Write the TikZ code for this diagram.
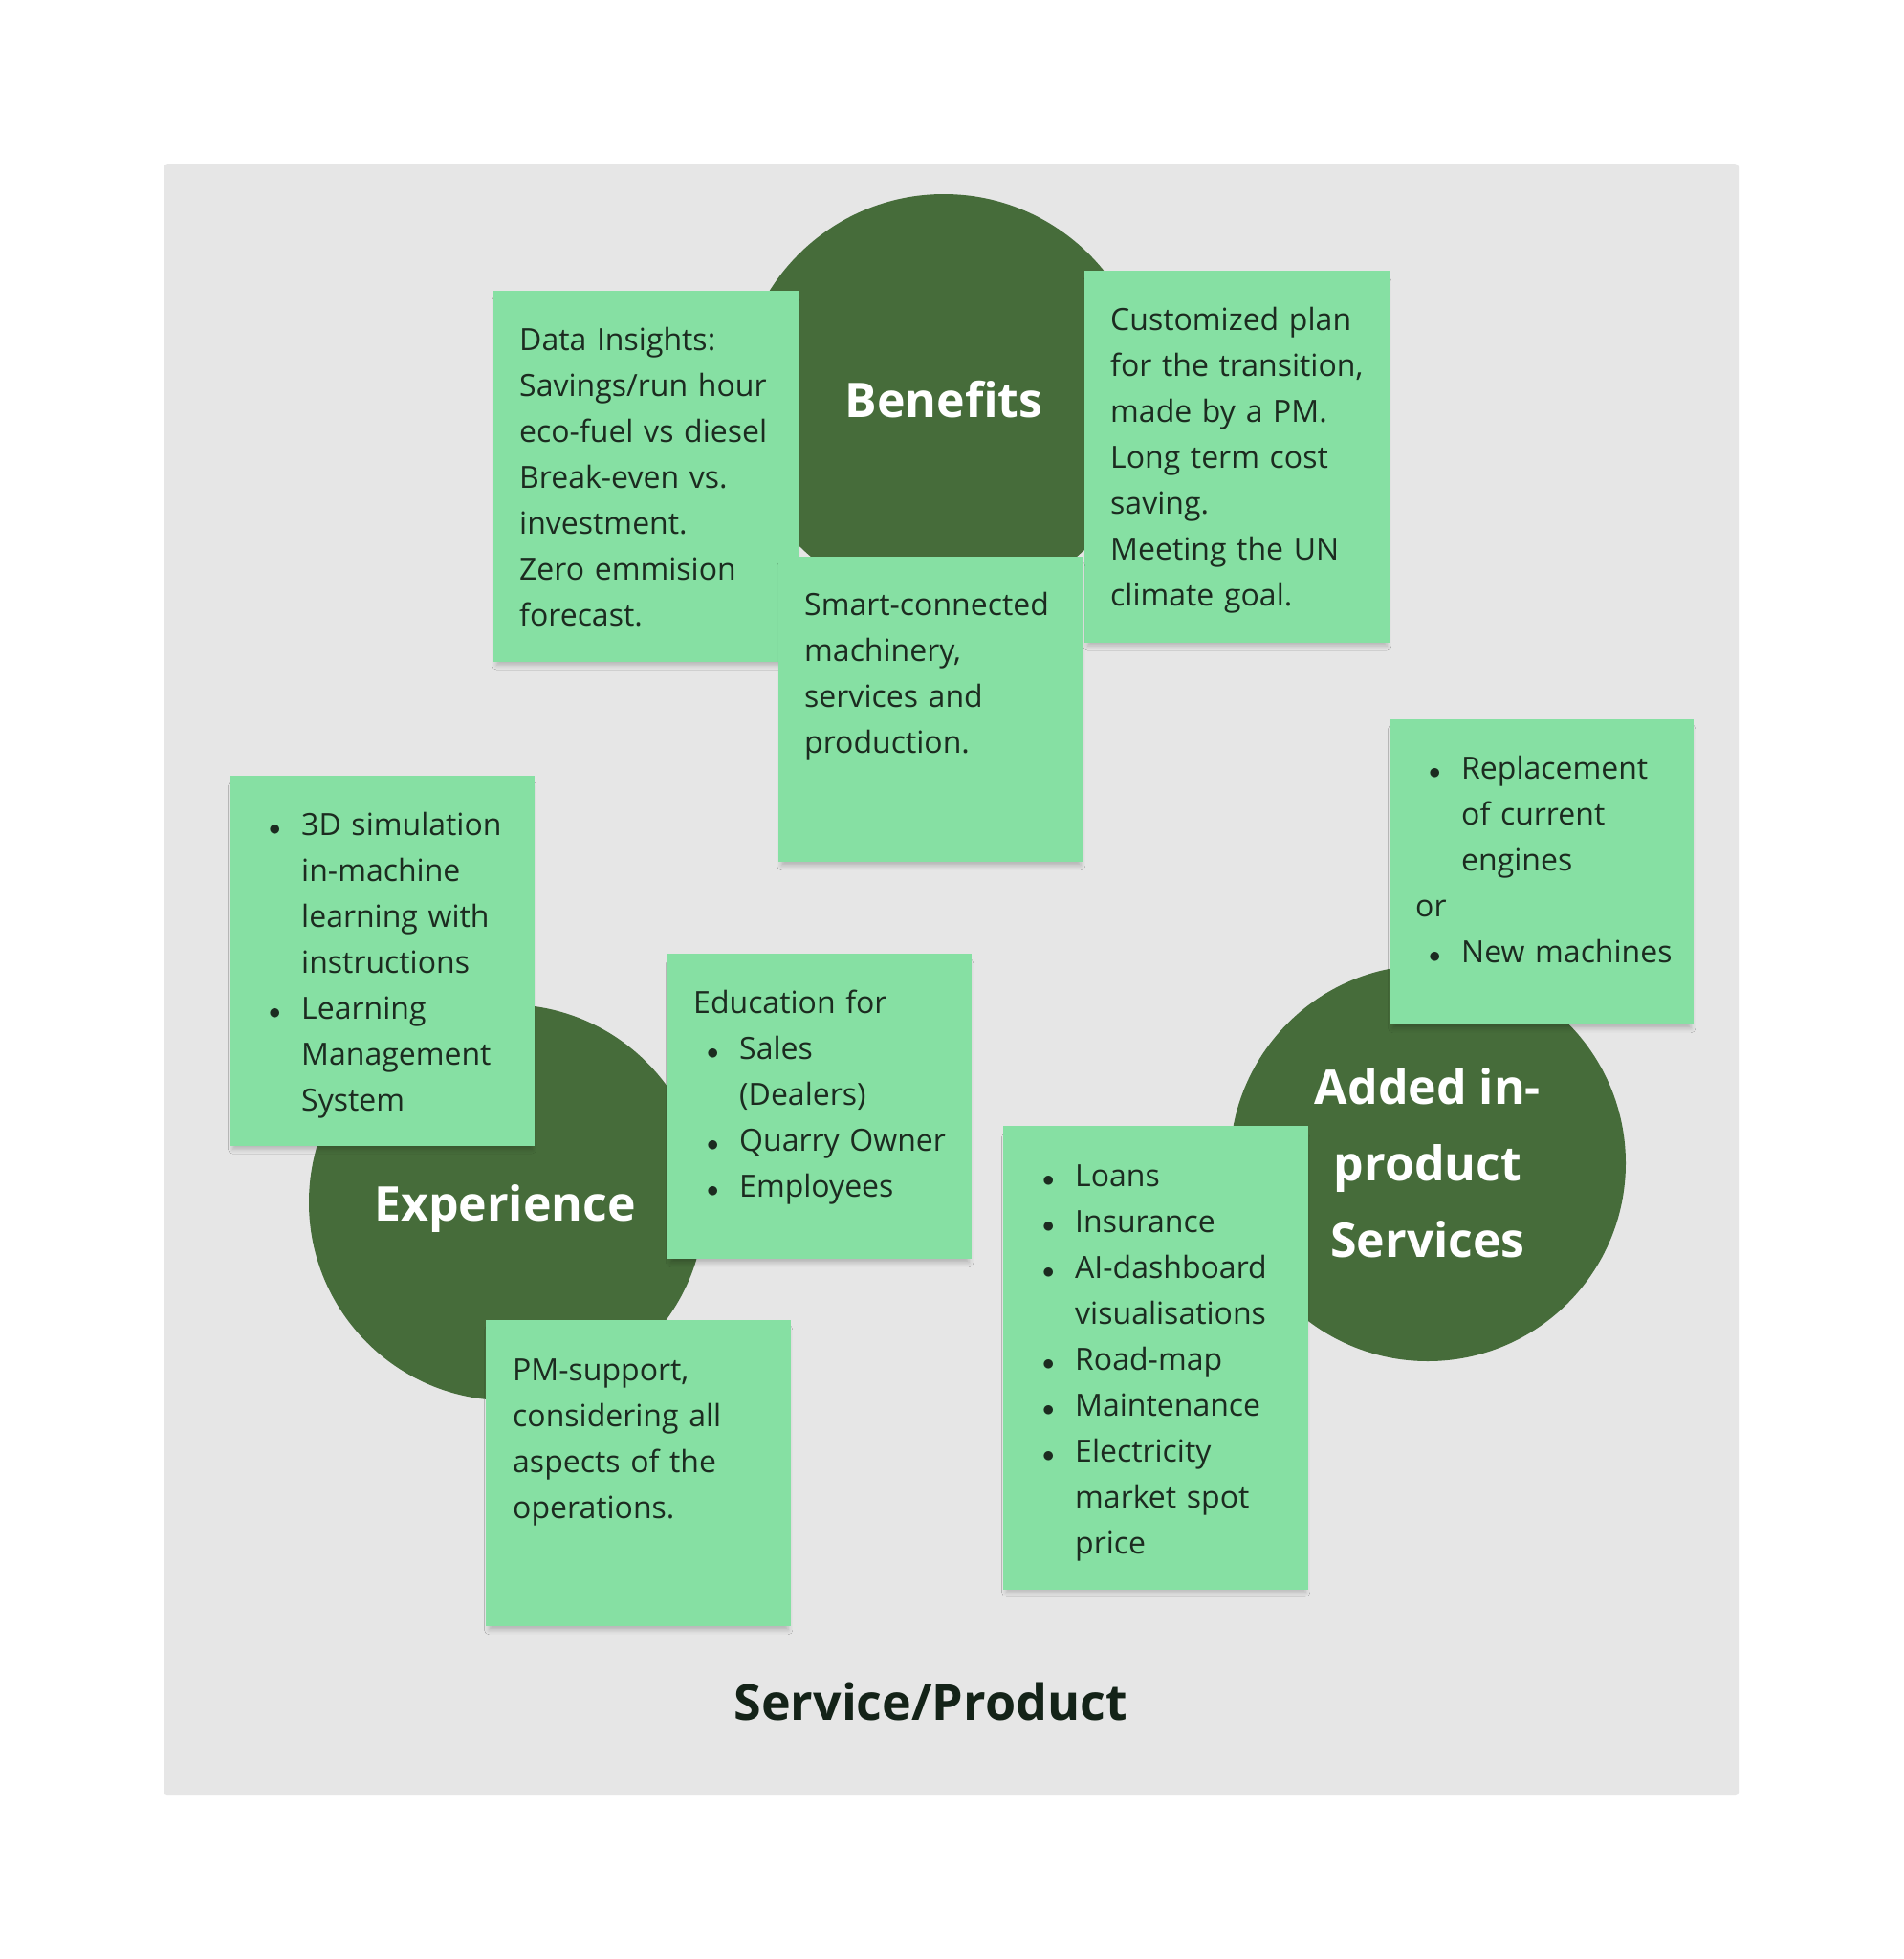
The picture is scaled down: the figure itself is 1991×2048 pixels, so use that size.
\documentclass[tikz,border=0pt]{standalone}
\usepackage{fontspec}
\setmainfont{Open Sans}
\usetikzlibrary{shadows.blur}
\definecolor{panelbg}{HTML}{E6E6E6}
\definecolor{stickygreen}{HTML}{86E0A3}
\definecolor{darkgreen}{HTML}{466C3A}
\definecolor{inktext}{HTML}{1C2B20}
\definecolor{titleink}{HTML}{142318}
\newcommand{\bul}{\makebox[48pt][l]{\hspace{14pt}{\fontsize{40}{48}\selectfont$\bullet$}}}
\newcommand{\ind}{\makebox[48pt]{}}
\begin{document}
\begin{tikzpicture}[x=1pt,y=-1pt,
  stickynote/.style={fill=stickygreen, draw=none, anchor=north west, inner sep=0pt,
    blur shadow={shadow xshift=0pt, shadow yshift=-7pt, shadow blur radius=5pt, shadow scale=0.98, shadow opacity=22}},
  circ/.style={circle, fill=darkgreen, draw=none, inner sep=0pt, text=white,
    font=\bfseries\fontsize{50}{80}\selectfont, align=center},
  note/.style={anchor=base west, inner sep=0pt, text=inktext, text width=300pt,
    align=left, font=\fontsize{32}{48}\selectfont}]
\fill[white] (0,0) rectangle (1991,2048);
\useasboundingbox (0,0) rectangle (1991,2048);
\node[fill=panelbg, rounded corners=4pt, minimum width=1647pt, minimum height=1706pt,
  anchor=north west, inner sep=0pt] (panel) at (171,171) {};
% circles
\node[circ, minimum size=430pt] (benefits) at (987,418) {Benefits};
\node[circ, minimum size=414pt] (experience) at (530,1257) {};
\node[font=\bfseries\fontsize{50}{80}\selectfont, text=white, anchor=base] (explabel) at (528,1276) {Experience};
\node[circ, minimum size=414pt] (services) at (1493,1216) {Added in-\\product\\Services};
% sticky notes
\node[stickynote, minimum width=319pt, minimum height=388pt] (data) at (516,304) {};
\node[note] (datatext) at (543,366) {Data Insights:\\Savings/run hour\\eco-fuel vs diesel\\Break-even vs.\\investment.\\Zero emmision\\forecast.};
\node[stickynote, minimum width=319pt, minimum height=389pt] (custom) at (1134,283) {};
\node[note] (customtext) at (1161,345) {Customized plan\\for the transition,\\made by a PM.\\Long term cost\\saving.\\Meeting the UN\\climate goal.};
\node[stickynote, minimum width=319pt, minimum height=319pt] (smart) at (814,582) {};
\node[note] (smarttext) at (841,643) {Smart-connected\\machinery,\\services and\\production.};
\node[stickynote, minimum width=318pt, minimum height=319pt] (repl) at (1453,752) {};
\node[note] (repltext) at (1480,814) {\bul Replacement\\\ind of current\\\ind engines\\or\\\bul New machines};
\node[stickynote, minimum width=319pt, minimum height=387pt] (sim) at (240,811) {};
\node[note] (simtext) at (267,873) {\bul 3D simulation\\\ind in-machine\\\ind learning with\\\ind instructions\\\bul Learning\\\ind Management\\\ind System};
\node[stickynote, minimum width=318pt, minimum height=319pt] (edu) at (698,997) {};
\node[note] (edutext) at (725,1059) {Education for\\\bul Sales\\\ind (Dealers)\\\bul Quarry Owner\\\bul Employees};
\node[stickynote, minimum width=319pt, minimum height=485pt] (loans) at (1049,1177) {};
\node[note] (loanstext) at (1076,1240) {\bul Loans\\\bul Insurance\\\bul AI-dashboard\\\ind visualisations\\\bul Road-map\\\bul Maintenance\\\bul Electricity\\\ind market spot\\\ind price};
\node[stickynote, minimum width=319pt, minimum height=320pt] (pm) at (508,1380) {};
\node[note] (pmtext) at (536,1443) {PM-support,\\considering all\\aspects of the\\operations.};
% title
\node[font=\bfseries\fontsize{52}{60}\selectfont, text=titleink] (title) at (973,1779) {Service/Product};
\end{tikzpicture}
\end{document}
